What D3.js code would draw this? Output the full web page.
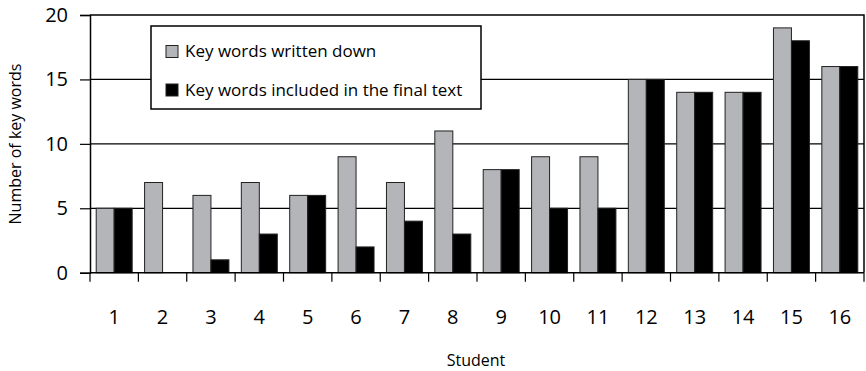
<!DOCTYPE html>
<html>
<head>
<meta charset="utf-8">
<script src="https://cdn.jsdelivr.net/npm/d3@7"></script>
<style>
  html, body { margin: 0; padding: 0; background: #fff; }
  svg { display: block; font-family: "Open Sans", "Noto Sans", sans-serif; }
</style>
</head>
<body>
<svg id="chart" width="866" height="371"></svg>
<script>
// Key words per student
const students = ["1","2","3","4","5","6","7","8","9","10","11","12","13","14","15","16"];
const writtenDown = [5, 7, 6, 7, 6, 9, 7, 11, 8, 9, 9, 15, 14, 14, 19, 16];
const inFinalText = [5, 0, 1, 3, 6, 2, 4, 3, 8, 5, 5, 15, 14, 14, 18, 16];
const seriesNames = ["Key words written down", "Key words included in the final text"];
const seriesColors = ["#b4b5b9", "#000000"];
const yTicks = [0, 5, 10, 15, 20];

(function () {
  const svg = d3.select("#chart");
  const plotLeft = 90, plotRight = 864, plotTop = 15, plotBottom = 272.7;

  const x = d3.scaleBand().domain(students).range([plotLeft, plotRight]).paddingInner(0).paddingOuter(0);
  const inner = d3.scaleBand().domain([0, 1]).range([0, x.bandwidth()]).paddingInner(0).paddingOuter(0.345);
  const y = d3.scaleLinear().domain([0, 20]).range([plotBottom, plotTop]);

  // gridlines
  svg.append("g")
    .selectAll("line")
    .data(yTicks.filter(d => d > 0 && d < 20))
    .join("line")
    .attr("x1", plotLeft).attr("x2", plotRight)
    .attr("y1", d => y(d)).attr("y2", d => y(d))
    .attr("stroke", "#000").attr("stroke-width", 1.2);

  // plot frame (top and right)
  svg.append("path")
    .attr("d", `M${plotLeft},${y(20)}H${plotRight}V${plotBottom}`)
    .attr("fill", "none").attr("stroke", "#000").attr("stroke-width", 1.5);

  // bars
  const series = [writtenDown, inFinalText];
  series.forEach((vals, si) => {
    svg.append("g")
      .selectAll("rect")
      .data(vals.map((v, i) => ({ s: students[i], v })).filter(d => d.v > 0))
      .join("rect")
      .attr("x", d => x(d.s) + inner(si))
      .attr("y", d => y(d.v))
      .attr("width", inner.bandwidth())
      .attr("height", d => y(0) - y(d.v))
      .attr("fill", seriesColors[si])
      .attr("stroke", "#222")
      .attr("stroke-width", 1);
  });

  // y axis
  const yAxis = d3.axisLeft(y).tickValues(yTicks).tickSize(10).tickPadding(12);
  const gy = svg.append("g").attr("transform", `translate(${plotLeft},0)`).call(yAxis);
  gy.select(".domain").attr("stroke", "#000").attr("stroke-width", 1.5);
  gy.selectAll(".tick line").attr("stroke", "#000").attr("stroke-width", 1.2);
  gy.selectAll(".tick text").attr("font-size", 20).attr("fill", "#000")
    .attr("font-family", "'Open Sans', sans-serif");

  // x axis: ticks at category boundaries
  const gx = svg.append("g").attr("transform", `translate(0,${plotBottom})`);
  gx.append("line").attr("x1", plotLeft).attr("x2", plotRight).attr("stroke", "#000").attr("stroke-width", 1.5);
  const boundaries = students.map(s => x(s)).concat([x(students[students.length - 1]) + x.bandwidth()]);
  gx.selectAll("line.tk").data(boundaries).join("line").attr("class", "tk")
    .attr("x1", d => d).attr("x2", d => d).attr("y1", 0).attr("y2", 9)
    .attr("stroke", "#000").attr("stroke-width", 1.2);
  gx.selectAll("text").data(students).join("text")
    .attr("x", d => x(d) + x.bandwidth() / 2)
    .attr("y", 51)
    .attr("text-anchor", "middle")
    .attr("font-size", 20)
    .attr("fill", "#000")
    .text(d => d);

  // axis titles
  svg.append("text")
    .attr("x", 476).attr("y", 366)
    .attr("text-anchor", "middle").attr("font-size", 16).attr("fill", "#000")
    .text("Student");
  svg.append("text")
    .attr("transform", "translate(21,144) rotate(-90)")
    .attr("text-anchor", "middle").attr("font-size", 16).attr("fill", "#000")
    .text("Number of key words");

  // legend
  const lg = svg.append("g");
  lg.append("rect").attr("x", 151).attr("y", 26).attr("width", 330).attr("height", 83)
    .attr("fill", "#fff").attr("stroke", "#000").attr("stroke-width", 1.5);
  const rows = [51.5, 90];
  seriesNames.forEach((name, i) => {
    lg.append("rect").attr("x", 166).attr("y", rows[i] - 6).attr("width", 12).attr("height", 12)
      .attr("fill", seriesColors[i]).attr("stroke", "#222").attr("stroke-width", 1);
    lg.append("text").attr("x", 185).attr("y", rows[i]).attr("dy", "0.35em")
      .attr("font-size", 17).attr("fill", "#000").text(name);
  });
})();
</script>
</body>
</html>
